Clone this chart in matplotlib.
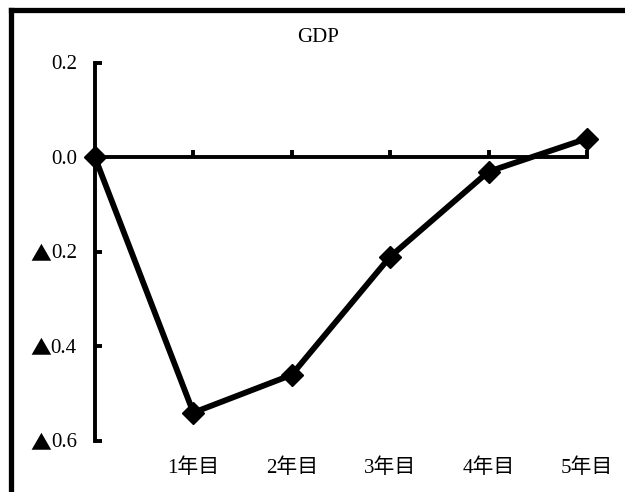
import matplotlib.pyplot as plt
from matplotlib.lines import Line2D
from matplotlib.transforms import blended_transform_factory, ScaledTranslation

plt.rcParams['font.family'] = ['Liberation Serif', 'Noto Sans CJK JP', 'DejaVu Sans']

years = ['', '1年目', '2年目', '3年目', '4年目', '5年目']
gdp = [0.0, -0.54, -0.46, -0.21, -0.03, 0.04]
yticks = [0.2, 0.0, -0.2, -0.4, -0.6]
ylabels = ['0.2', '0.0', '▲0.2', '▲0.4', '▲0.6']

fig = plt.figure(figsize=(6.25, 4.92), dpi=100)
ax = fig.add_axes([0.152, 0.1037, 0.787, 0.7683])

x = list(range(len(gdp)))
ax.plot(x, gdp, color='black', lw=4.2, marker='D', ms=11.5, mew=1,
        solid_joinstyle='miter', clip_on=False, zorder=5)

ax.set_xlim(0, len(gdp) - 1)
ax.set_ylim(-0.6, 0.2)

# x axis sits on y = 0, category labels stay below the plot
ax.spines['bottom'].set_position(('data', 0))
ax.spines['top'].set_visible(False)
ax.spines['right'].set_visible(False)
for s in ('left', 'bottom'):
    ax.spines[s].set_linewidth(2.8)
    ax.spines[s].set_capstyle('projecting')

ax.set_xticks(x[1:])
ax.set_xticklabels([])
ax.tick_params(axis='x', direction='in', length=5, width=2.8)
ax.set_yticks(yticks)
ax.set_yticklabels([])
ax.tick_params(axis='y', direction='in', length=5, width=2.8)

# y labels: serif digits, full-width CJK triangle for negatives
ytr = blended_transform_factory(ax.transAxes, ax.transData) + \
    ScaledTranslation(0, -2 / 100, fig.dpi_scale_trans)
for v, lab in zip(yticks, ylabels):
    num = lab.lstrip('▲')
    ax.text(-0.037, v, num, transform=ytr, ha='right', va='center', fontsize=15)
    if lab.startswith('▲'):
        ax.text(-0.088, v, '▲', transform=ytr, ha='right', va='center', fontsize=15,
                family='Noto Sans CJK JP')

tr = blended_transform_factory(ax.transData, ax.transAxes)
for i, lab in enumerate(years):
    if lab:
        ax.text(i, -0.072, lab, transform=tr, ha='center', va='center', fontsize=15)

fig.text(318 / 625, 1 - 38 / 492, 'GDP', ha='center', va='center', fontsize=15)

# frame lines on the left and top edges
fig.add_artist(Line2D([10.5 / 625, 10.5 / 625], [0, 1 - 9.5 / 492], color='black', lw=3.8,
                      transform=fig.transFigure, solid_capstyle='projecting'))
fig.add_artist(Line2D([10.5 / 625, 1], [1 - 9.5 / 492, 1 - 9.5 / 492], color='black', lw=3.8,
                      transform=fig.transFigure, solid_capstyle='projecting'))

fig.savefig('out.png', dpi=100)
